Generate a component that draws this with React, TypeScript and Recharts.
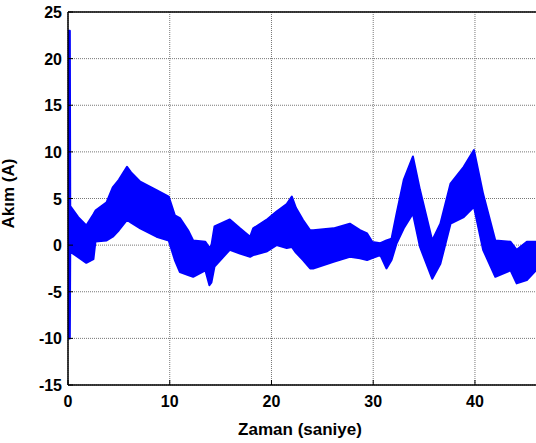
import React from 'react';
import { ComposedChart, Area, XAxis, YAxis, CartesianGrid, ReferenceLine } from 'recharts';

// Time (s) sample points along the current envelope
const times = [0, 0.18, 0.22, 1.0, 1.8, 2.5, 2.7, 3.8, 4.4, 5.0, 5.8, 6.2, 7.1, 8.7, 9.9, 10.5, 11.0, 11.8, 12.3, 13.5, 13.9, 14.1, 14.4, 15.9, 16.9, 17.9, 18.2, 19.5, 20.5, 21.5, 22.0, 22.4, 23.1, 23.8, 24.1, 26.1, 27.7, 28.7, 29.4, 29.9, 30.7, 31.3, 31.8, 32.3, 33.0, 33.9, 34.6, 35.8, 36.6, 37.6, 38.9, 39.9, 40.8, 42.0, 43.5, 44.1, 45.1, 46];
// Upper envelope of the oscillating current (A)
const upper = [23, 23, 4.2, 3.0, 2.1, 3.3, 3.7, 4.6, 6.2, 7.0, 8.4, 7.8, 6.8, 5.9, 5.2, 3.2, 2.9, 1.6, 0.5, 0.35, -0.3, 0.0, 2.0, 2.75, 1.8, 0.9, 1.8, 2.7, 3.6, 4.4, 5.2, 4.0, 2.7, 1.6, 1.6, 1.8, 2.3, 1.6, 1.25, 0.35, 0.2, 0.5, 0.7, 3.4, 7.0, 9.5, 5.9, 0.5, 2.3, 6.6, 8.4, 10.2, 5.5, 0.5, 0.35, -0.5, 0.35, 0.35];
// Lower envelope of the oscillating current (A)
const lower = [-10, -10, -0.7, -1.3, -1.9, -1.5, 0.4, 0.5, 0.9, 1.6, 2.7, 2.4, 1.8, 0.9, 0.5, -1.6, -2.9, -3.2, -3.4, -2.7, -4.3, -4.0, -2.3, -0.5, -0.9, -1.25, -1.07, -0.7, 0.0, -0.3, -0.2, -0.8, -1.6, -2.5, -2.5, -1.8, -1.25, -1.4, -1.6, -1.4, -1.07, -2.5, -1.6, 0.2, 1.8, 3.4, -0.2, -3.6, -2.0, 2.3, 3.0, 4.1, -0.5, -3.4, -2.7, -4.1, -3.75, -2.7];

const xTicks = [0, 10, 20, 30, 40];
const yTicks = [-15, -10, -5, 0, 5, 10, 15, 20, 25];

const data = times.map((t, i) => ({ t, range: [lower[i], upper[i]] }));

const FONT = 'Arial, "Liberation Sans", Helvetica, sans-serif';

const YTick = (props: any) => {
  const { x, y, payload } = props;
  return (
    <g>
      <line x1={x + 6} x2={x + 11} y1={y} y2={y} stroke="#000" strokeWidth={1} />
      <text x={x} y={y} dy={6} textAnchor="end" fontFamily={FONT} fontWeight="bold" fontSize={16} fill="#000">
        {payload.value}
      </text>
    </g>
  );
};

const XTick = (props: any) => {
  const { x, y, payload } = props;
  return (
    <g>
      <line x1={x} x2={x} y1={y - 6} y2={y - 11} stroke="#000" strokeWidth={1} />
      <text x={x} y={y} dy={16} textAnchor="middle" fontFamily={FONT} fontWeight="bold" fontSize={16} fill="#000">
        {payload.value}
      </text>
    </g>
  );
};

export default function App() {
  return (
    <div style={{ position: 'absolute', left: 0, top: 0, background: '#fff' }}>
      <ComposedChart width={536} height={443} data={data} margin={{ top: 12, right: 0, left: 0, bottom: 0 }}>
        <CartesianGrid stroke="#777" strokeDasharray="1 1" ticks={undefined} horizontalValues={yTicks} verticalValues={xTicks} />
        <XAxis
          type="number"
          dataKey="t"
          domain={[0, 46]}
          ticks={xTicks}
          allowDataOverflow
          height={58}
          tickSize={0}
          tickMargin={6}
          tick={<XTick />}
          axisLine={{ stroke: '#000', strokeWidth: 1.5 }}
          label={{ value: 'Zaman (saniye)', position: 'insideBottom', offset: 8, fontFamily: FONT, fontWeight: 'bold', fontSize: 17, fill: '#000', dx: -2 }}
        />
        <YAxis
          type="number"
          domain={[-15, 25]}
          ticks={yTicks}
          allowDataOverflow
          width={68}
          tickSize={0}
          tickMargin={6}
          tick={<YTick />}
          axisLine={{ stroke: '#000', strokeWidth: 1.5 }}
          label={{ value: 'Akım (A)', angle: -90, position: 'insideLeft', offset: 8, fontFamily: FONT, fontWeight: 'bold', fontSize: 17, fill: '#000', dy: 30 }}
        />
        <ReferenceLine y={25} stroke="#000" strokeWidth={1.5} />
        <Area
          type="linear"
          dataKey="range"
          stroke="#0000ff"
          strokeWidth={2}
          strokeLinejoin="round"
          fill="#0000ff"
          fillOpacity={1}
          isAnimationActive={false}
          dot={false}
          activeDot={false}
        />
      </ComposedChart>
    </div>
  );
}
